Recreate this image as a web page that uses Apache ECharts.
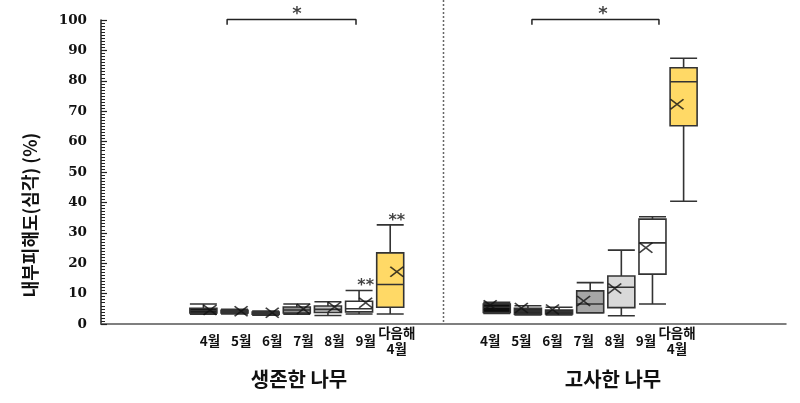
<!DOCTYPE html>
<html>
<head>
<meta charset="utf-8">
<script src="https://cdn.jsdelivr.net/npm/echarts@6/dist/echarts.min.js"></script>
<style>
  html, body { margin: 0; padding: 0; background: #fff; }
  #chart { width: 800px; height: 403px; }
</style>
</head>
<body>
<div id="chart"></div>
<script>
// 22 category slots: blanks pad the two groups
const categories = ['', '', '',
    '4월', '5월', '6월', '7월', '8월', '9월', '다음해\n4월',
    '', '',
    '4월', '5월', '6월', '7월', '8월', '9월', '다음해\n4월',
    '', '', ''];
const leftSlots = [3, 4, 5, 6, 7, 8, 9];
const rightSlots = [12, 13, 14, 15, 16, 17, 18];

// [min, Q1, median, Q3, max]
const survivedBoxes = [
    [3.2, 3.6, 4.4, 5.2, 6.6],
    [3.3, 3.6, 4.0, 4.5, 4.8],
    [2.9, 3.2, 3.6, 3.9, 4.3],
    [3.2, 3.6, 4.6, 5.6, 6.6],
    [2.8, 3.8, 4.8, 5.9, 7.3],
    [3.3, 4.0, 5.0, 7.5, 11.0],
    [3.3, 5.5, 13.0, 23.4, 32.6]
];
const survivedMeans = [4.6, 4.2, 3.7, 4.9, 5.6, 7.0, 17.2];

const deadBoxes = [
    [3.5, 3.8, 5.5, 6.6, 7.1],
    [3.0, 3.2, 4.3, 5.2, 6.0],
    [3.0, 3.3, 4.0, 4.6, 5.5],
    [3.6, 3.7, 6.6, 10.9, 13.6],
    [2.7, 5.4, 12.1, 15.8, 24.3],
    [6.6, 16.4, 26.7, 34.5, 35.3],
    [40.4, 65.2, 79.7, 84.3, 87.4]
];
const deadMeans = [6.2, 5.3, 4.8, 7.6, 11.7, 25.1, 72.3];

const survivedColors = ['#111111', '#1c1c1c', '#1c1c1c', '#8f8f8f', '#c4c4c4', '#ffffff', '#FFD966'];
const deadColors = ['#0d0d0d', '#2a2a2a', '#1e1e1e', '#a6a6a6', '#d9d9d9', '#ffffff', '#FFD966'];

const yTicks = [0, 10, 20, 30, 40, 50, 60, 70, 80, 90, 100];

// annotations (x in slot units, y in %)
const bracketLeft = [[4.05, 98.4], [4.05, 100.2], [8.19, 100.2], [8.19, 98.4]];
const bracketRight = [[13.84, 98.4], [13.84, 100.2], [17.92, 100.2], [17.92, 98.4]];
const bracketStars = [[6.29, 101.8], [16.12, 101.8]];
const starMarks = [[8, 12.6, '**'], [9, 34.0, '**']];
const dividerSlot = 11;

const chartDom = document.getElementById('chart');
const chart = echarts.init(chartDom);

function boxItems(slots, boxes, colors) {
    return boxes.map((b, i) => ({
        value: [slots[i]].concat(b),
        itemStyle: { color: colors[i] }
    }));
}
function meanItems(slots, means) {
    return means.map((m, i) => [slots[i], m]);
}

const boxSeries = (name, data) => ({
    name: name,
    type: 'boxplot',
    xAxisIndex: 0,
    yAxisIndex: 0,
    encode: { x: 0, y: [1, 2, 3, 4, 5] },
    boxWidth: [27, 27],
    itemStyle: { borderColor: '#333', borderWidth: 1.6 },
    data: data,
    z: 2
});

const option = {
    animation: false,
    grid: { left: 101, right: 14, top: 20, bottom: 79 },
    xAxis: [
        {
            type: 'category',
            data: categories,
            axisLine: { lineStyle: { color: '#555', width: 1.5 } },
            axisTick: { show: false },
            axisLabel: {
                interval: 0,
                margin: 17,
                verticalAlign: 'middle',
                lineHeight: 16,
                fontFamily: 'Noto Sans CJK KR',
                fontWeight: 'bold',
                fontSize: 13.5,
                color: '#111'
            },
            splitLine: { show: false }
        },
        {
            type: 'value',
            min: 0,
            max: 22,
            show: false
        }
    ],
    yAxis: {
        type: 'value',
        min: 0,
        max: 100,
        interval: 10,
        axisLine: { show: true, lineStyle: { color: '#222', width: 1.5 } },
        axisTick: { show: true, inside: true, length: 6, lineStyle: { color: '#222', width: 1.2 } },
        minorTick: { show: true, splitNumber: 10, length: 4, lineStyle: { color: '#222', width: 1 } },
        splitLine: { show: false },
        axisLabel: {
            margin: 14,
            fontFamily: 'DejaVu Serif',
            fontWeight: 'bold',
            fontSize: 13.5,
            color: '#111',
            formatter: v => (yTicks.indexOf(v) >= 0 ? String(v) : '')
        }
    },
    series: [
        boxSeries('생존한 나무', boxItems(leftSlots, survivedBoxes, survivedColors)),
        boxSeries('고사한 나무', boxItems(rightSlots, deadBoxes, deadColors)),
        {
            name: '평균',
            type: 'scatter',
            xAxisIndex: 0,
            symbol: 'path://M0 0L10 10M10 0L0 10',
            symbolSize: [13, 10],
            itemStyle: { color: 'none', borderColor: '#111', borderWidth: 1.6 },
            data: meanItems(leftSlots, survivedMeans).concat(meanItems(rightSlots, deadMeans)),
            z: 5
        },
        {
            type: 'scatter',
            xAxisIndex: 0,
            symbolSize: 0,
            label: {
                show: true,
                position: 'inside',
                formatter: p => p.data[2],
                fontFamily: 'DejaVu Sans',
                fontWeight: 'bold',
                fontSize: 16,
                color: '#111'
            },
            data: starMarks,
            z: 6
        },
        {
            type: 'line',
            xAxisIndex: 1,
            clip: false,
            symbol: 'none',
            lineStyle: { color: '#222', width: 1.5 },
            data: bracketLeft
        },
        {
            type: 'line',
            xAxisIndex: 1,
            clip: false,
            symbol: 'none',
            lineStyle: { color: '#222', width: 1.5 },
            data: bracketRight
        },
        {
            type: 'scatter',
            xAxisIndex: 1,
            clip: false,
            symbolSize: 0,
            label: {
                show: true,
                position: 'inside',
                formatter: '*',
                fontFamily: 'DejaVu Sans',
                fontWeight: 'bold',
                fontSize: 18,
                color: '#111'
            },
            data: bracketStars
        }
    ]
};

chart.setOption(option);

// divider, group titles and axis name placed after layout
const divX = chart.convertToPixel({ xAxisIndex: 1 }, dividerSlot);
const baseY = chart.convertToPixel({ yAxisIndex: 0 }, 0);
chart.setOption({
    graphic: [
        {
            type: 'line',
            shape: { x1: divX, y1: 0, x2: divX, y2: baseY },
            style: { stroke: '#666', lineWidth: 1.5, lineDash: [2, 2] },
            silent: true
        },
        {
            type: 'text',
            x: 299, y: 379,
            style: {
                text: '생존한 나무',
                fontFamily: 'Noto Sans CJK KR',
                fontWeight: 'bold',
                fontSize: 20,
                fill: '#111',
                align: 'center',
                verticalAlign: 'middle'
            }
        },
        {
            type: 'text',
            x: 613, y: 379,
            style: {
                text: '고사한 나무',
                fontFamily: 'Noto Sans CJK KR',
                fontWeight: 'bold',
                fontSize: 20,
                fill: '#111',
                align: 'center',
                verticalAlign: 'middle'
            }
        },
        {
            type: 'text',
            x: 30, y: 215,
            rotation: Math.PI / 2,
            style: {
                text: '내부피해도(심각) (%)',
                fontFamily: 'Noto Sans CJK KR',
                fontWeight: 'bold',
                fontSize: 18,
                fill: '#111',
                align: 'center',
                verticalAlign: 'middle'
            }
        }
    ]
});
</script>
</body>
</html>
